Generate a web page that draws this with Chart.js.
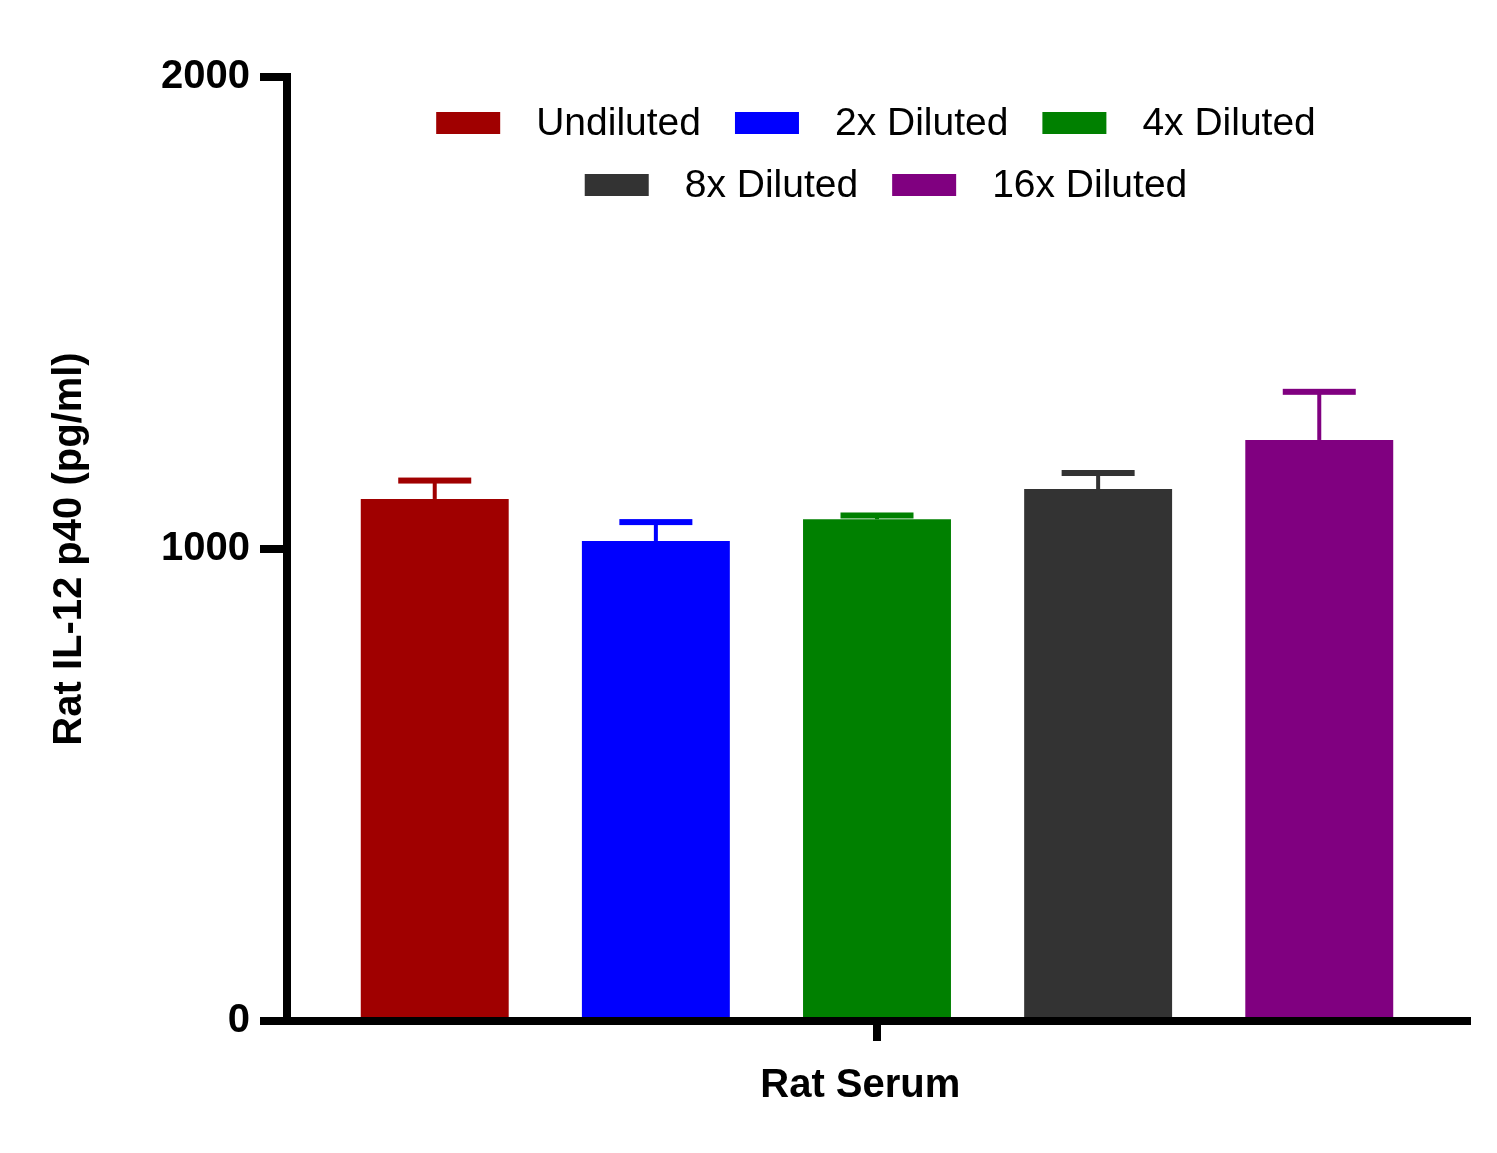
<!DOCTYPE html>
<html>
<head>
<meta charset="utf-8">
<script src="https://cdn.jsdelivr.net/npm/chart.js@4.4.1/dist/chart.umd.min.js"></script>
<style>
  html, body { margin: 0; padding: 0; background: #ffffff; }
  #wrap { width: 1497px; height: 1153px; }
</style>
</head>
<body>
<div id="wrap"><canvas id="c" width="1497" height="1153"></canvas></div>
<script>
// ---- data ----
const categories = ["Rat Serum"];
const seriesNames = ["Undiluted", "2x Diluted", "4x Diluted", "8x Diluted", "16x Diluted"];
const seriesValues = [1106, 1017, 1063, 1127, 1231];
const seriesErrors = [39, 40, 8, 34, 102];
const seriesColors = ["#A00000", "#0000FF", "#008000", "#333333", "#800080"];
const yTicks = [0, 1000, 2000];
const yTickLabels = ["0", "1000", "2000"];
const yTitle = "Rat IL-12 p40 (pg/ml)";
const xTitle = "Rat Serum";

const FONT = "'Liberation Sans', Arial, Helvetica, sans-serif";

const datasets = seriesNames.map((name, i) => ({
  label: name,
  data: [seriesValues[i]],
  backgroundColor: seriesColors[i],
  borderWidth: 0,
  categoryPercentage: 0.937,
  barPercentage: 0.669
}));

const errorBarPlugin = {
  id: 'errorBars',
  afterDatasetsDraw(chart) {
    const ctx = chart.ctx;
    const ys = chart.scales.y;
    ctx.save();
    chart.data.datasets.forEach((ds, i) => {
      const meta = chart.getDatasetMeta(i);
      const bar = meta.data[0];
      if (!bar) return;
      const x = bar.x;
      const yBar = ys.getPixelForValue(seriesValues[i]);
      const yTop = ys.getPixelForValue(seriesValues[i] + seriesErrors[i]);
      ctx.fillStyle = seriesColors[i];
      ctx.fillRect(x - 2, yTop, 4, yBar - yTop);
      ctx.fillRect(x - 36.5, yTop - 3, 73, 6);
    });
    ctx.restore();
  }
};

const legendPlugin = {
  id: 'customLegend',
  afterDraw(chart) {
    const ctx = chart.ctx;
    const ca = chart.chartArea;
    const cx = (ca.left + ca.right) / 2;
    const rows = [
      { items: [0, 1, 2], y: 123, cx: cx - 1 },
      { items: [3, 4], y: 185, cx: cx + 9 }
    ];
    const boxW = 64, boxH = 22, gapText = 36, gapItem = 34;
    ctx.save();
    ctx.font = "39px " + FONT;
    ctx.textBaseline = 'middle';
    ctx.textAlign = 'left';
    rows.forEach(row => {
      const widths = row.items.map(i => boxW + gapText + ctx.measureText(seriesNames[i]).width);
      const total = widths.reduce((a, b) => a + b, 0) + gapItem * (row.items.length - 1);
      let x = row.cx - total / 2;
      row.items.forEach((i, k) => {
        ctx.fillStyle = seriesColors[i];
        ctx.fillRect(x, row.y - boxH / 2, boxW, boxH);
        ctx.fillStyle = '#000000';
        ctx.fillText(seriesNames[i], x + boxW + gapText, row.y + 1);
        x += widths[k] + gapItem;
      });
    });
    ctx.restore();
  }
};

new Chart(document.getElementById('c'), {
  type: 'bar',
  data: { labels: categories, datasets },
  plugins: [errorBarPlugin, legendPlugin],
  options: {
    responsive: false,
    animation: false,
    devicePixelRatio: 1,
    layout: { padding: { top: 77, right: 30, bottom: 0, left: 0 } },
    plugins: {
      legend: { display: false },
      tooltip: { enabled: false }
    },
    scales: {
      x: {
        offset: true,
        afterFit(scale) { scale.height = 132; },
        grid: {
          offset: false,
          drawOnChartArea: false,
          drawTicks: true,
          tickLength: 20,
          lineWidth: 8,
          color: '#000000'
        },
        border: { display: true, width: 8, color: '#000000' },
        ticks: { display: false },
        title: {
          display: true,
          text: xTitle + '   ',
          color: '#000000',
          font: { family: FONT, size: 40, weight: 'bold' },
          padding: { top: 0, bottom: 43 }
        }
      },
      y: {
        min: 0,
        max: 2000,
        afterFit(scale) { scale.width = 287; },
        afterBuildTicks(scale) { scale.ticks = yTicks.map(v => ({ value: v })); },
        grid: {
          drawOnChartArea: false,
          drawTicks: true,
          tickLength: 27,
          lineWidth: 8,
          color: '#000000'
        },
        border: { display: true, width: 8, color: '#000000' },
        ticks: {
          color: '#000000',
          padding: 10,
          font: { family: FONT, size: 40, weight: 'bold' },
          callback(value) {
            const k = yTicks.indexOf(value);
            return k >= 0 ? yTickLabels[k] : String(value);
          }
        },
        title: {
          display: true,
          text: yTitle,
          color: '#000000',
          font: { family: FONT, size: 40, weight: 'bold' },
          padding: { top: 46, bottom: 0 }
        }
      }
    }
  }
});
</script>
</body>
</html>
